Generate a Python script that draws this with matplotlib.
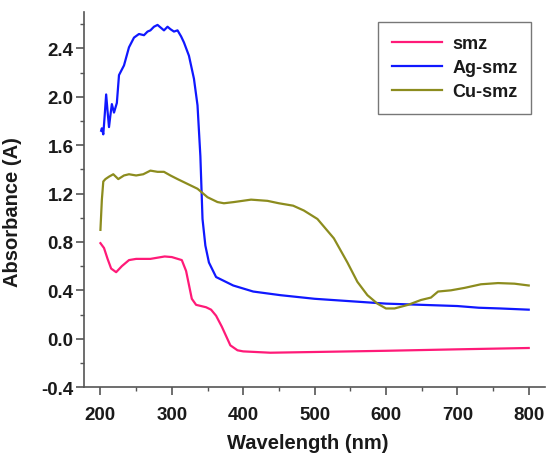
import matplotlib.pyplot as plt

plt.rcParams['font.family'] = ['Liberation Sans', 'DejaVu Sans']
plt.rcParams['font.weight'] = 'bold'

# smz
smz_x = [200, 205, 210, 215, 222, 230, 240, 250, 270, 290, 300, 314, 320, 328, 334, 348, 355, 362, 370, 382, 392,
         400, 438, 500, 600, 700, 800]
smz_y = [0.79, 0.75, 0.66, 0.58, 0.55, 0.60, 0.65, 0.66, 0.66, 0.68, 0.675, 0.65, 0.56, 0.33, 0.28, 0.26, 0.24,
         0.19, 0.10, -0.055, -0.096, -0.105, -0.116, -0.11, -0.10, -0.088, -0.077]

# Ag-smz
ag_x = [201, 202, 204, 206, 208, 210, 212, 214, 216, 219, 223, 226, 233, 240, 247, 254, 261, 266, 270, 275, 280,
        285, 289, 294, 298, 303, 308, 313, 317, 324, 331, 336, 340, 343, 347, 352, 362, 386, 414, 452, 500, 550,
        600, 650, 700, 730, 760, 800]
ag_y = [1.72, 1.74, 1.69, 1.85, 2.02, 1.88, 1.75, 1.85, 1.94, 1.87, 1.95, 2.18, 2.26, 2.41, 2.49, 2.52, 2.51, 2.54,
        2.55, 2.58, 2.595, 2.57, 2.55, 2.58, 2.56, 2.54, 2.55, 2.50, 2.45, 2.34, 2.15, 1.93, 1.51, 0.99, 0.77,
        0.63, 0.51, 0.44, 0.39, 0.36, 0.33, 0.31, 0.29, 0.28, 0.27, 0.256, 0.25, 0.24]

# Cu-smz
cu_x = [200, 202, 204, 207, 212, 218, 225, 233, 240, 250, 260, 270, 280, 289, 298, 308, 322, 336, 350, 364, 373,
        387, 411, 434, 450, 470, 485, 504, 527, 546, 560, 574, 588, 600, 612, 631, 649, 663, 673, 691, 710, 733,
        757, 780, 800]
cu_y = [0.90, 1.15, 1.30, 1.32, 1.34, 1.36, 1.32, 1.35, 1.36, 1.35, 1.36, 1.39, 1.38, 1.38, 1.35, 1.32, 1.28,
        1.24, 1.17, 1.13, 1.12, 1.13, 1.15, 1.14, 1.12, 1.10, 1.06, 0.99, 0.83, 0.63, 0.47, 0.36, 0.29, 0.25,
        0.25, 0.28, 0.32, 0.34, 0.39, 0.40, 0.42, 0.45, 0.46, 0.455, 0.44]

x_ticks = [200, 300, 400, 500, 600, 700, 800]
y_ticks = [-0.4, 0.0, 0.4, 0.8, 1.2, 1.6, 2.0, 2.4]

fig = plt.figure(figsize=(5.47, 4.56), dpi=100)
ax = fig.add_axes([0.1536, 0.149, 0.843, 0.822])

ax.plot(smz_x, smz_y, color='#ff1a78', lw=1.6, label='smz')
ax.plot(ag_x, ag_y, color='#1018ff', lw=1.6, label='Ag-smz')
ax.plot(cu_x, cu_y, color='#8c8c1e', lw=1.6, label='Cu-smz')

ax.set_xlim(177, 823)
ax.set_ylim(-0.4, 2.70)
ax.set_xticks(x_ticks)
ax.set_xticks([250, 350, 450, 550, 650, 750], minor=True)
ax.set_yticks(y_ticks)
ax.set_yticklabels(['%.1f' % v for v in y_ticks])
ax.set_yticks([-0.2, 0.2, 0.6, 1.0, 1.4, 1.8, 2.2, 2.6], minor=True)

for s in ['top', 'right']:
    ax.spines[s].set_visible(False)
for s in ['left', 'bottom']:
    ax.spines[s].set_color('#555555')
    ax.spines[s].set_linewidth(1.2)

ax.tick_params(which='major', length=5.5, width=1.2, color='#555555', labelsize=13.5, labelcolor='#1a1a1a')
ax.tick_params(which='minor', length=3, width=1.0, color='#555555')
ax.tick_params(axis='x', which='major', pad=8)
ax.tick_params(axis='y', which='major', pad=2)

ax.set_xlabel('Wavelength (nm)', fontsize=14.5, fontweight='bold', color='#1a1a1a')
ax.set_ylabel('Absorbance (A)', fontsize=14.5, fontweight='bold', color='#1a1a1a')
ax.xaxis.set_label_coords(0.485, -0.123)
ax.yaxis.set_label_coords(-0.135, 0.47)

leg = ax.legend(loc='upper right', bbox_to_anchor=(0.971, 0.95), bbox_transform=fig.transFigure, borderaxespad=0,
                fontsize=13, frameon=True, fancybox=False, handlelength=2.8, handletextpad=0.55,
                borderpad=0.75, labelspacing=0.38)
leg.get_frame().set_edgecolor('#555555')
leg.get_frame().set_linewidth(1.0)
for t in leg.get_texts():
    t.set_color('#1a1a1a')

fig.savefig('out.png', dpi=100)
